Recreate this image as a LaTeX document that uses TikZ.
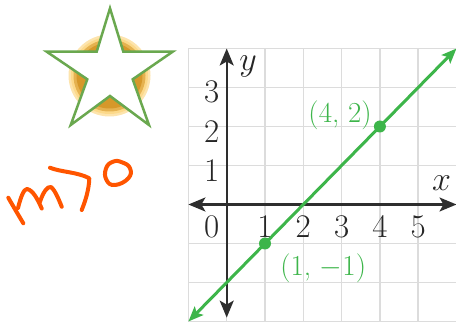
\RequirePackage{fix-cm}
\documentclass[tikz,border=0pt]{standalone}
\usetikzlibrary{arrows.meta}
\definecolor{LineGreen}{HTML}{3DB54A}
\definecolor{GridGray}{HTML}{DCDCDC}
\definecolor{AxisGray}{HTML}{2E2E2E}
\definecolor{StarGreen}{HTML}{6AA84F}
\definecolor{HaloLight}{HTML}{FCD98A}
\definecolor{HaloGold}{HTML}{D6982A}
\definecolor{InkOrange}{HTML}{FF5500}

\begin{document}
\begin{tikzpicture}[x=1pt, y=-1pt,
  gridline/.style={GridGray, line width=1.5pt},
  axisline/.style={AxisGray, line width=2.2pt,
    {Stealth[length=17pt,width=14pt,inset=4pt]}-{Stealth[length=17pt,width=14pt,inset=4pt]}},
  greenline/.style={LineGreen, line width=3pt,
    {Stealth[length=15pt,width=12pt,inset=3pt]}-{Stealth[length=15pt,width=12pt,inset=3pt]}},
  dot/.style={circle, fill=LineGreen, inner sep=0pt, minimum size=12pt},
  ticklabel/.style={font=\fontsize{33}{36}\selectfont, text=black!85},
  ptlabel/.style={font=\fontsize{29}{32}\selectfont, text=LineGreen},
  axislabel/.style={font=\fontsize{34}{38}\selectfont, text=black!85},
  ink/.style={InkOrange, line width=4pt, line cap=round, line join=round}]
  \useasboundingbox (0,0) rectangle (456,326);

  % halo behind the star
  \fill[HaloLight!70] (109.5,75.5) circle (41);
  \fill[HaloLight] (109.5,75.5) circle (38.5);
  \fill[HaloGold!60!HaloLight] (109.5,75.5) circle (36);
  \fill[HaloGold] (109.5,75.5) circle (33);

  % star
  \draw[StarGreen, line width=2.5pt, fill=white, line join=miter]
    (110,8.3) -- (123.3,51.7) -- (172.7,51.7) -- (132.7,79.3) -- (149,125)
    -- (110,96) -- (70.7,125) -- (87.3,79.3) -- (46.7,51.7) -- (96.7,51.7) -- cycle;

  % handwriting
  \draw[ink] (8.3,197.7) .. controls (13,206) and (19,216) .. (23.3,223.3);
  \draw[ink] (18,208) .. controls (21,196) and (24,189) .. (27,189)
    .. controls (33,190) and (38,200) .. (41.7,208.5);
  \draw[ink] (40,201.7) .. controls (43,193) and (47,186) .. (51,187)
    .. controls (55,190) and (59,200) .. (61.7,206.7);
  \draw[ink] (50,167.7) .. controls (60,172) and (78,172) .. (89.3,178.3)
    .. controls (89,190) and (85,202) .. (81.7,210);
  \draw[ink] plot[smooth cycle, tension=0.8] coordinates
    {(113,161.7) (106,168.5) (106.5,180) (115,185) (128.3,178.3) (130,168.3) (122,162.3)};

  % graph
  \begin{scope}[shift={(226.7,204.5)}, x=38.3pt, y=39pt]
    \coordinate (Origin) at (0,0);

    \foreach \x in {-1,...,6}{%
      \draw[gridline] (\x,-3) -- (\x,4);
    }
    \foreach \y in {-3,...,4}{%
      \draw[gridline] (-1,\y) -- (6,\y);
    }

    \coordinate (XLeft)   at (-1,0);
    \coordinate (XRight)  at (6,0);
    \coordinate (YBottom) at (0,-2.9);
    \coordinate (YTop)    at (0,4);
    \draw[axisline] (XLeft) -- (XRight);
    \draw[axisline] (YBottom) -- (YTop);

    \node[axislabel] (xlabel) at (5.61,0.54) {$x$};
    \node[axislabel] (ylabel) at (0.56,3.53) {$y$};

    \node[ticklabel] (zero) at (-0.39,-0.57) {0};
    \foreach \x in {1,...,5}{%
      \node[ticklabel] (xtick\x) at (\x,-0.57) {\x};
    }
    \foreach \y in {1,2,3}{%
      \node[ticklabel] (ytick\y) at (-0.39,\y-0.12) {\y};
    }

    \coordinate (LineStart) at (-1,-3);
    \coordinate (LineEnd)   at (6,4);
    \draw[greenline] (LineStart) -- (LineEnd);

    \node[dot] (P1) at (1,-1) {};
    \node[dot] (P2) at (4,2) {};
    \node[ptlabel] (P1label) at (2.52,-1.64) {(1, $-$1)};
    \node[ptlabel] (P2label) at (2.96,2.3) {(4, 2)};
  \end{scope}
\end{tikzpicture}
\end{document}
